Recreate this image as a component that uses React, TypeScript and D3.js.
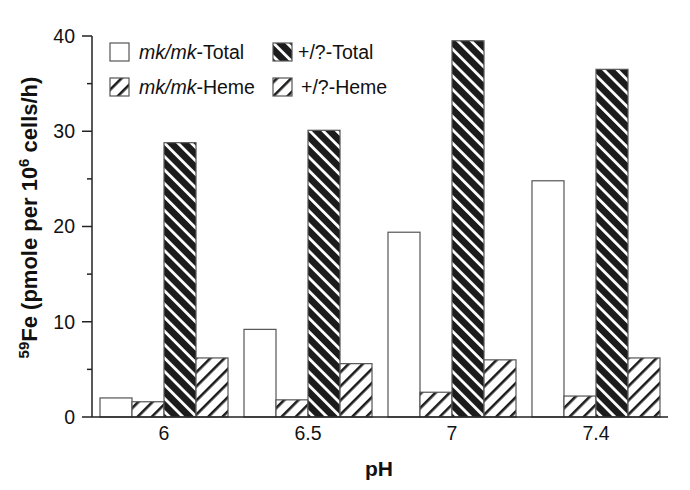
import * as d3 from 'd3';

const categories = ['6', '6.5', '7', '7.4'];
const mkTotal = [2.0, 9.2, 19.4, 24.8];
const mkHeme = [1.6, 1.8, 2.6, 2.2];
const wtTotal = [28.8, 30.1, 39.5, 36.5];
const wtHeme = [6.2, 5.6, 6.0, 6.2];
const yTicks = [0, 10, 20, 30, 40];
const yMinorTicks = [5, 15, 25, 35];

const seriesKeys = ['mkTotal', 'mkHeme', 'wtTotal', 'wtHeme'];
const seriesValues: Record<string, number[]> = { mkTotal, mkHeme, wtTotal, wtHeme };
const seriesFill: Record<string, string> = {
  mkTotal: '#fff',
  mkHeme: 'url(#lightHatch)',
  wtTotal: 'url(#darkHatch)',
  wtHeme: 'url(#lightHatch)',
};

const W = 690;
const H = 490;
const left = 92;
const right = 668;
const top = 36;
const bottom = 417;
const font = '"Liberation Sans", Arial, Helvetica, sans-serif';

export default function App() {
  const x = d3.scaleBand<string>().domain(categories).range([left, right]).paddingInner(0.111).paddingOuter(0.0556);
  const xs = d3.scaleBand<string>().domain(seriesKeys).range([0, x.bandwidth()]);
  const y = d3.scaleLinear().domain([0, 40]).range([bottom, top]);

  return (
    <svg width={W} height={H} style={{ position: 'absolute', left: 0, top: 0, background: '#fff' }} fontFamily={font}>
      <defs>
        <pattern id="darkHatch" patternUnits="userSpaceOnUse" width={9.5} height={9.5} patternTransform="rotate(-45)">
          <rect width={9.5} height={9.5} fill="#1c1c1c" />
          <rect x={0} width={2.8} height={9.5} fill="#fff" />
        </pattern>
        <pattern id="lightHatch" patternUnits="userSpaceOnUse" width={10} height={10} patternTransform="rotate(45)">
          <rect width={10} height={10} fill="#fff" />
          <rect x={0} width={2.6} height={10} fill="#1c1c1c" />
        </pattern>
      </defs>

      {/* bars */}
      {categories.map((c, i) => (
        <g key={c} transform={`translate(${x(c)},0)`}>
          {seriesKeys.map((k) => {
            const v = seriesValues[k][i];
            return (
              <rect
                key={k}
                x={xs(k)}
                y={y(v)}
                width={xs.bandwidth()}
                height={y(0) - y(v)}
                fill={seriesFill[k]}
                stroke="#555"
                strokeWidth={1.2}
              />
            );
          })}
        </g>
      ))}

      {/* axes */}
      <line x1={left} x2={left} y1={top} y2={bottom} stroke="#222" strokeWidth={1.5} />
      <line x1={left} x2={right} y1={bottom} y2={bottom} stroke="#222" strokeWidth={1.5} />
      {yTicks.map((t) => (
        <g key={t}>
          <line x1={left - 10} x2={left} y1={y(t)} y2={y(t)} stroke="#222" strokeWidth={1.5} />
          <text x={left - 17} y={y(t)} dy="0.35em" textAnchor="end" fontSize={19.5} fill="#111">
            {t}
          </text>
        </g>
      ))}
      {yMinorTicks.map((t) => (
        <line key={t} x1={left - 5} x2={left} y1={y(t)} y2={y(t)} stroke="#222" strokeWidth={1.5} />
      ))}
      {categories.map((c) => (
        <text key={c} x={(x(c) ?? 0) + x.bandwidth() / 2} y={440} textAnchor="middle" fontSize={19.5} fill="#111">
          {c}
        </text>
      ))}

      {/* axis titles */}
      <text x={379} y={476} textAnchor="middle" fontSize={21} fontWeight="bold" fill="#111">
        pH
      </text>
      <text
        transform={`translate(37,${(top + bottom) / 2 - 9}) rotate(-90)`}
        textAnchor="middle"
        fontSize={22}
        fontWeight="bold"
        fill="#111"
      >
        <tspan fontSize={15} dy={-8}>59</tspan>
        <tspan dy={8}>Fe (pmole per 10</tspan>
        <tspan fontSize={15} dy={-8}>6</tspan>
        <tspan dy={8}> cells/h)</tspan>
      </text>

      {/* legend */}
      <g fontSize={19.5} fill="#111">
        <rect x={110} y={43} width={19} height={18} fill="#fff" stroke="#555" strokeWidth={1.2} />
        <text x={139} y={59}>
          <tspan fontStyle="italic">mk/mk</tspan>-Total
        </text>
        <rect x={110} y={78} width={19} height={18} fill="url(#lightHatch)" stroke="#555" strokeWidth={1.2} />
        <text x={139} y={94}>
          <tspan fontStyle="italic">mk/mk</tspan>-Heme
        </text>
        <rect x={273} y={43} width={19} height={18} fill="url(#darkHatch)" stroke="#555" strokeWidth={1.2} />
        <text x={298} y={59}>+/?-Total</text>
        <rect x={273} y={78} width={19} height={18} fill="url(#lightHatch)" stroke="#555" strokeWidth={1.2} />
        <text x={301} y={94}>+/?-Heme</text>
      </g>
    </svg>
  );
}
